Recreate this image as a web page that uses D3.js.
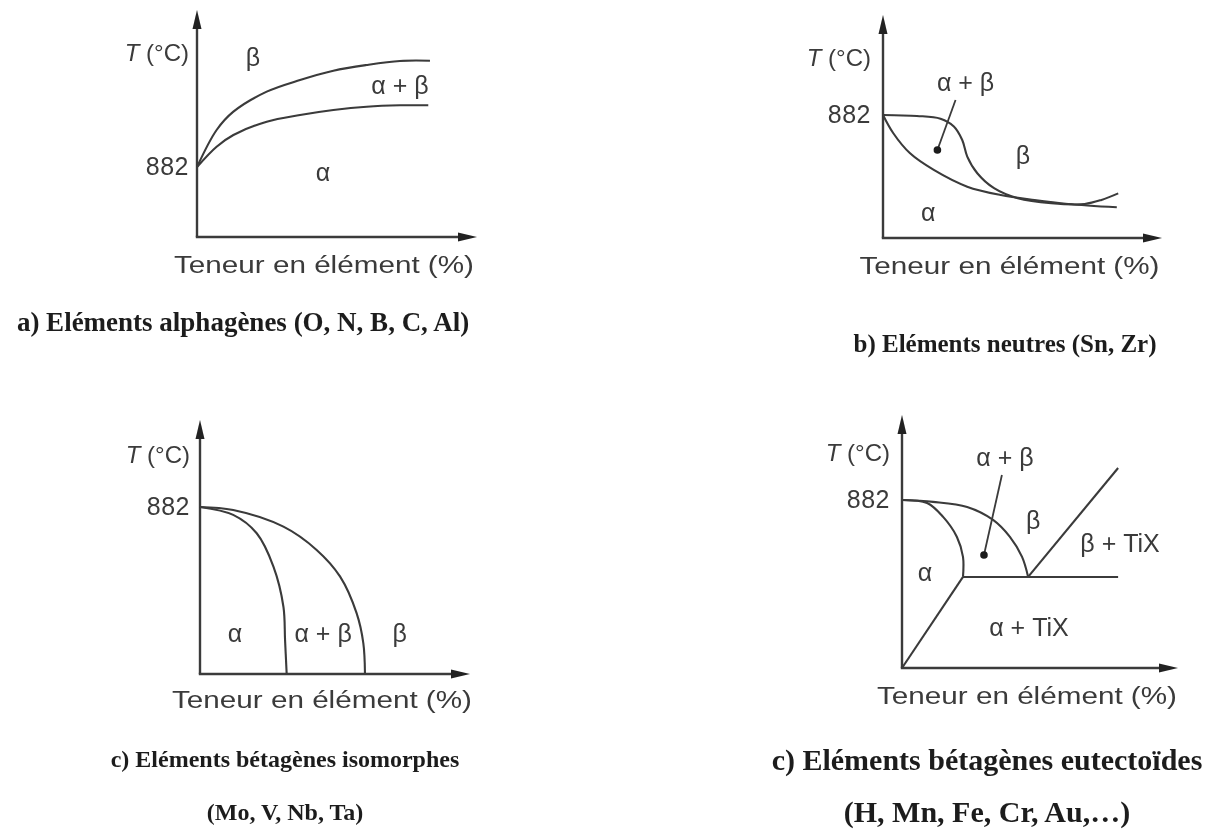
<!DOCTYPE html>
<html>
<head>
<meta charset="utf-8">
<script src="https://cdn.jsdelivr.net/npm/d3@7"></script>
<style>
  html, body { margin: 0; padding: 0; background: #fff; }
  svg { display: block; }
</style>
</head>
<body>
<svg id="fig" width="1222" height="838"></svg>
<script>
// ---- Data: composition (% of element) vs temperature (°C), schematic ----
const transusTick = [882];

// a) alpha stabilisers
const aBetaTransus  = [[0,882],[7,1348],[13,1579],[24.9,1831],[36.8,1978],[48.7,2095],[60.6,2167],[72.5,2218],[83.2,2221]];
const aAlphaTransus = [[0,882],[7,1138],[13,1285],[24.9,1453],[36.8,1537],[48.7,1600],[60.6,1642],[72.5,1659],[82.6,1659]];
const aLabels = [
  { text: "β", x: 20, t: 2268 },
  { text: "α + β", x: 72.5, t: 1915 },
  { text: "α", x: 45, t: 819 }
];

// b) neutral elements
const bBetaTransus  = [[0,882],[12.2,875],[20.6,855],[25.4,800],[28.4,703],[30.2,584],[33.8,464],[39.8,357],[48.3,285],[60.3,249],[72.3,244],[78.3,273],[84.3,320]];
const bAlphaTransus = [[0,882],[3.7,751],[9.7,607],[18.2,488],[30.2,368],[42.2,308],[54.3,272],[66.3,244],[83.8,220]];
const bLabels = [
  { text: "α + β", x: 29.6, t: 1119 },
  { text: "β", x: 50.2, t: 595 },
  { text: "α", x: 16.2, t: 186 }
];
const bPointer = [[26, 990], [19.5, 631]];

// c) isomorphous beta stabilisers
const cBetaTransus  = [[0,882],[12.3,866],[30.9,778],[43.2,655],[51.9,514],[58,321],[60.5,162],[61.1,0]];
const cAlphaTransus = [[0,882],[12.3,840],[21,743],[27.2,567],[30.9,355],[31.5,180],[32.1,0]];
const cLabels = [
  { text: "α", x: 13, t: 217 },
  { text: "α + β", x: 45.6, t: 217 },
  { text: "β", x: 74, t: 217 }
];

// d) eutectoid beta stabilisers
const dBetaTransus  = [[0,882],[11.2,872],[23.6,845],[33,777],[39.1,688],[43.5,583],[45.7,478]];
const dAlphaTransus = [[0,882],[9.1,866],[14.9,793],[19.9,688],[22.1,583],[22.1,478]];
const dEutectoid    = [[22.1,478],[78.3,478]];
const dAlphaSolvus  = [[0,0],[22.1,478]];
const dBetaSolvus   = [[45.7,478],[78.3,1050]];
const dLabels = [
  { text: "α + β", x: 37.3, t: 1108 },
  { text: "β", x: 47.5, t: 777 },
  { text: "β + TiX", x: 79, t: 656 },
  { text: "α", x: 8.3, t: 504 },
  { text: "α + TiX", x: 46, t: 215 }
];
const dPointer = [[36.2, 1013], [29.7, 593]];

const xTitle = "Teneur en élément (%)";
const captionsA = ["a) Eléments alphagènes (O, N, B, C, Al)"];
const captionsB = ["b) Eléments neutres (Sn, Zr)"];
const captionsC = ["c) Eléments bétagènes isomorphes", "(Mo, V, Nb, Ta)"];
const captionsD = ["c) Eléments bétagènes eutectoïdes", "(H, Mn, Fe, Cr, Au,…)"];

// ---- Drawing ----
const INK = "#3a3a3a";
const SANS = "'Liberation Sans', Arial, sans-serif";
const SERIF = "'Liberation Serif', 'Times New Roman', serif";

const svg = d3.select("#fig");
const defs = svg.append("defs");
defs.append("filter").attr("id", "soft")
  .append("feGaussianBlur").attr("stdDeviation", 0.55);
defs.append("filter").attr("id", "softText")
  .append("feGaussianBlur").attr("stdDeviation", 0.35);

const smooth = d3.curveCatmullRom.alpha(0.5);

function panel(cfg) {
  const x = d3.scaleLinear().domain([0, 100]).range([cfg.x0, cfg.xTip]);
  const y = d3.scaleLinear().domain([0, cfg.tMax]).range([cfg.y0, cfg.yTip]);
  const g = svg.append("g").attr("filter", "url(#soft)");

  const line = d3.line().x(d => x(d[0])).y(d => y(d[1]));

  // axes with arrow heads
  const ah = 19, aw = 4.5;
  g.append("line").attr("x1", x(0)).attr("y1", y(0)).attr("x2", x(0)).attr("y2", y(cfg.tMax) + ah - 2)
    .attr("stroke", INK).attr("stroke-width", 2.4);
  g.append("path")
    .attr("d", `M${x(0)},${y(cfg.tMax)} L${x(0) - aw},${y(cfg.tMax) + ah} L${x(0) + aw},${y(cfg.tMax) + ah} Z`)
    .attr("fill", "#222");
  g.append("line").attr("x1", x(0) - 1.2).attr("y1", y(0)).attr("x2", x(100) - ah + 2).attr("y2", y(0))
    .attr("stroke", INK).attr("stroke-width", 2.4);
  g.append("path")
    .attr("d", `M${x(100)},${y(0)} L${x(100) - ah},${y(0) - aw} L${x(100) - ah},${y(0) + aw} Z`)
    .attr("fill", "#222");

  // 882 tick label
  const ax = g.append("g").attr("transform", `translate(${x(0)},0)`)
    .call(d3.axisLeft(y).tickValues(transusTick).tickSize(0).tickPadding(cfg.tickPad));
  ax.select(".domain").remove();
  ax.selectAll("text").attr("font-family", SANS).attr("font-size", 25).attr("fill", INK)
    .attr("letter-spacing", 0.5);

  // y title
  const yt = g.append("text").attr("x", x(0) - cfg.tickPad).attr("y", y(cfg.tMax) + cfg.yTitleDy)
    .attr("text-anchor", "end").attr("font-family", SANS).attr("font-size", 24).attr("fill", INK);
  yt.append("tspan").attr("font-style", "italic").text("T");
  yt.append("tspan").text(" (°C)");

  // x title
  g.append("text").attr("x", (x(0) + x(100)) / 2 - 13).attr("y", y(0) + cfg.xTitleDy)
    .attr("text-anchor", "middle").attr("font-family", SANS).attr("font-size", 23).attr("fill", INK)
    .attr("textLength", 300).attr("lengthAdjust", "spacingAndGlyphs")
    .text(xTitle);

  // phase boundaries
  cfg.curves.forEach(c => {
    g.append("path").datum(c).attr("d", line.curve(smooth))
      .attr("fill", "none").attr("stroke", INK).attr("stroke-width", 2.1);
  });
  (cfg.straight || []).forEach(c => {
    g.append("path").datum(c).attr("d", line.curve(d3.curveLinear))
      .attr("fill", "none").attr("stroke", INK).attr("stroke-width", 2.1);
  });

  // pointer to the two-phase field
  if (cfg.pointer) {
    const [p0, p1] = cfg.pointer;
    g.append("line").attr("x1", x(p0[0])).attr("y1", y(p0[1])).attr("x2", x(p1[0])).attr("y2", y(p1[1]))
      .attr("stroke", INK).attr("stroke-width", 1.8);
    g.append("circle").attr("cx", x(p1[0])).attr("cy", y(p1[1])).attr("r", 3.8).attr("fill", "#1a1a1a");
  }

  // phase labels
  g.selectAll("text.phase").data(cfg.labels).join("text").attr("class", "phase")
    .attr("x", d => x(d.x)).attr("y", d => y(d.t)).attr("dy", "0.35em")
    .attr("text-anchor", "middle").attr("font-family", SANS).attr("font-size", 25).attr("fill", INK)
    .text(d => d.text);

  // caption
  const cg = svg.append("g").attr("filter", "url(#softText)");
  cfg.captions.forEach((t, i) => {
    cg.append("text").attr("x", cfg.capX).attr("y", cfg.capY + i * cfg.capStep)
      .attr("text-anchor", "middle").attr("font-family", SERIF).attr("font-weight", "bold")
      .attr("font-size", cfg.capSize).attr("fill", "#1e1e1e").text(t);
  });
}

panel({ x0: 197, xTip: 477, y0: 237, yTip: 10, tMax: 2860, tickPad: 8, yTitleDy: 51, xTitleDy: 36,
  curves: [aBetaTransus, aAlphaTransus], labels: aLabels,
  captions: captionsA, capX: 243, capY: 331, capStep: 0, capSize: 27 });

panel({ x0: 883, xTip: 1162, y0: 238, yTip: 15, tMax: 1599, tickPad: 12, yTitleDy: 51, xTitleDy: 36,
  curves: [bBetaTransus, bAlphaTransus], labels: bLabels, pointer: bPointer,
  captions: captionsB, capX: 1005, capY: 352, capStep: 0, capSize: 25 });

panel({ x0: 200, xTip: 470, y0: 674, yTip: 420, tMax: 1341, tickPad: 10, yTitleDy: 43, xTitleDy: 34,
  curves: [cBetaTransus, cAlphaTransus], labels: cLabels,
  captions: captionsC, capX: 285, capY: 767, capStep: 53, capSize: 24 });

panel({ x0: 902, xTip: 1178, y0: 668, yTip: 415, tMax: 1328, tickPad: 12, yTitleDy: 46, xTitleDy: 36,
  curves: [dBetaTransus, dAlphaTransus], straight: [dEutectoid, dAlphaSolvus, dBetaSolvus],
  labels: dLabels, pointer: dPointer,
  captions: captionsD, capX: 987, capY: 770, capStep: 52, capSize: 30 });
</script>
</body>
</html>
